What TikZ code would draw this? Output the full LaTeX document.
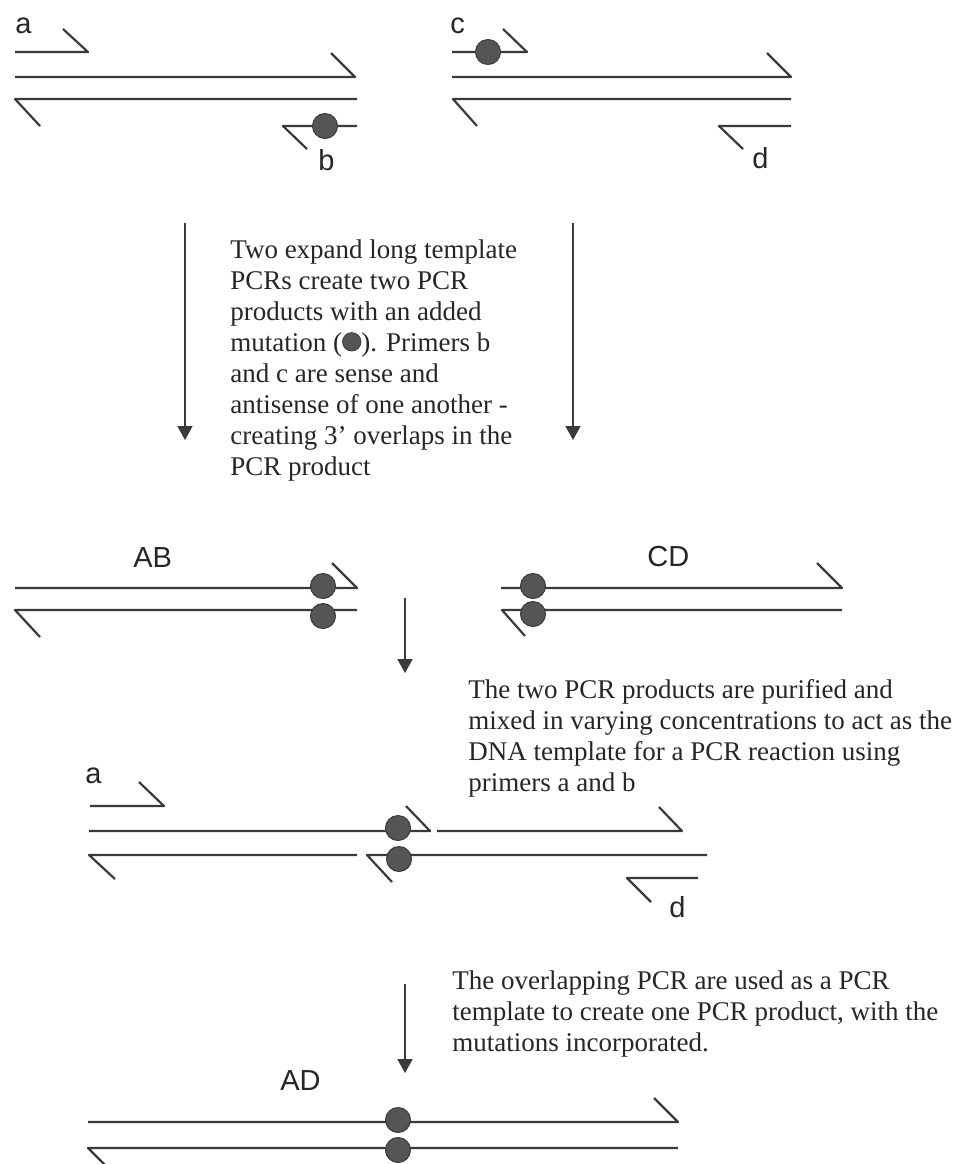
\documentclass[tikz,border=0pt]{standalone}
\usepackage{fontspec}
\setmainfont{Liberation Serif}
\newfontfamily\lblfont{Liberation Sans}
\usetikzlibrary{arrows.meta}
\definecolor{strandc}{HTML}{3A3A3A}
\definecolor{dotc}{HTML}{555555}
\definecolor{txtc}{HTML}{262626}
\newcommand{\mutdot}{\tikz[baseline=-0.34em]\fill[dotc,draw=strandc,line width=0.4pt] (0,0) circle (4.6pt);}
\begin{document}
\begin{tikzpicture}[x=0.5pt,y=-0.5pt,
  strand/.style={draw=strandc,line width=1.1pt,line join=round},
  mut/.style={circle,fill=dotc,draw=strandc,line width=0.5pt,minimum size=12.5pt,inner sep=0pt},
  lbl/.style={font=\lblfont\fontsize{14.5}{17}\selectfont,text=txtc,anchor=base west,inner sep=0pt},
  desc/.style={font=\fontsize{13.5}{15.5}\selectfont,text=txtc,anchor=base west,inner sep=0pt},
  flow/.style={draw=strandc,line width=0.9pt,-{Triangle[width=7.5pt,length=7pt]}}]
\useasboundingbox (0,0) rectangle (960,1164);
\clip (0,0) rectangle (960,1164);
% ---------- Row 1 left: template with primers a and b
\draw[strand] (15,52) -- (88,52) -- (63,29);
\draw[strand] (15,77) -- (355,77) -- (331,53);
\draw[strand] (40,126) -- (15,99) -- (357,99);
\draw[strand] (357,126) -- (283,126) -- (307,149);
\node[mut] (mb) at (325,126) {};
\node[lbl] (la) at (15,33) {a};
\node[lbl] (lb) at (318,170) {b};
% ---------- Row 1 right: template with primers c and d
\draw[strand] (452,52) -- (527,52) -- (503,29);
\node[mut] (mc) at (488,52) {};
\draw[strand] (452,77) -- (791,77) -- (767,53);
\draw[strand] (477,126) -- (453,99) -- (791,99);
\draw[strand] (791,126) -- (719,126) -- (743,149);
\node[lbl] (lc) at (450,33) {c};
\node[lbl] (ld) at (752,168) {d};
% ---------- arrows 1 and 2 with description
\coordinate (a1s) at (185,223); \coordinate (a1e) at (185,440);
\coordinate (a2s) at (573,223); \coordinate (a2e) at (573,440);
\draw[flow] (a1s) -- (a1e);
\draw[flow] (a2s) -- (a2e);
\node[desc] (t1) at (230,258) {\begin{tabular}[t]{@{}l@{}}
Two expand long template\\
PCRs create two PCR\\
products with an added\\
mutation (\mutdot). Primers b\\
and c are sense and\\
antisense of one another -\\
creating 3’ overlaps in the\\
PCR product\end{tabular}};
% ---------- Row 2: AB and CD
\node[lbl] (lAB) at (133,567) {AB};
\draw[strand] (15,588) -- (357,588) -- (332,563);
\draw[strand] (40,637) -- (15,610) -- (357,610);
\node[mut] (mab1) at (323,586) {};
\node[mut] (mab2) at (323,616) {};
\node[lbl] (lCD) at (647,566) {CD};
\draw[strand] (501,588) -- (842,588) -- (817,563);
\draw[strand] (525,636) -- (502,610) -- (842,610);
\node[mut] (mcd1) at (533,586) {};
\node[mut] (mcd2) at (533,614) {};
% ---------- arrow 3 with description
\coordinate (a3s) at (405,598); \coordinate (a3e) at (405,673);
\draw[flow] (a3s) -- (a3e);
\node[desc] (t2) at (468,698) {\begin{tabular}[t]{@{}l@{}}
The two PCR products are purified and\\
mixed in varying concentrations to act as the\\
DNA template for a PCR reaction using\\
primers a and b\end{tabular}};
% ---------- Row 3: overlapping templates
\node[lbl] (la2) at (85,783) {a};
\draw[strand] (90,806) -- (164,806) -- (139,782);
\draw[strand] (89,831) -- (430,831) -- (406,806);
\draw[strand] (437,831) -- (682,831) -- (659,807);
\draw[strand] (115,879) -- (89,855) -- (357,855);
\draw[strand] (392,882) -- (367,855) -- (707,855);
\draw[strand] (698,878) -- (627,878) -- (651,902);
\node[mut] (m31) at (398,828) {};
\node[mut] (m32) at (399,859) {};
\node[lbl] (ld2) at (669,917) {d};
% ---------- arrow 4 with description
\coordinate (a4s) at (405,984); \coordinate (a4e) at (405,1073);
\draw[flow] (a4s) -- (a4e);
\node[desc] (t3) at (452,989) {\begin{tabular}[t]{@{}l@{}}
The overlapping PCR are used as a PCR\\
template to create one PCR product, with the\\
mutations incorporated.\end{tabular}};
% ---------- Row 4: AD
\node[lbl] (lAD) at (280,1090) {AD};
\draw[strand] (88,1122) -- (678,1122) -- (654,1098);
\draw[strand] (114,1174) -- (88,1148) -- (678,1148);
\node[mut] (m41) at (398,1120) {};
\node[mut] (m42) at (398,1150) {};
\end{tikzpicture}
\end{document}
